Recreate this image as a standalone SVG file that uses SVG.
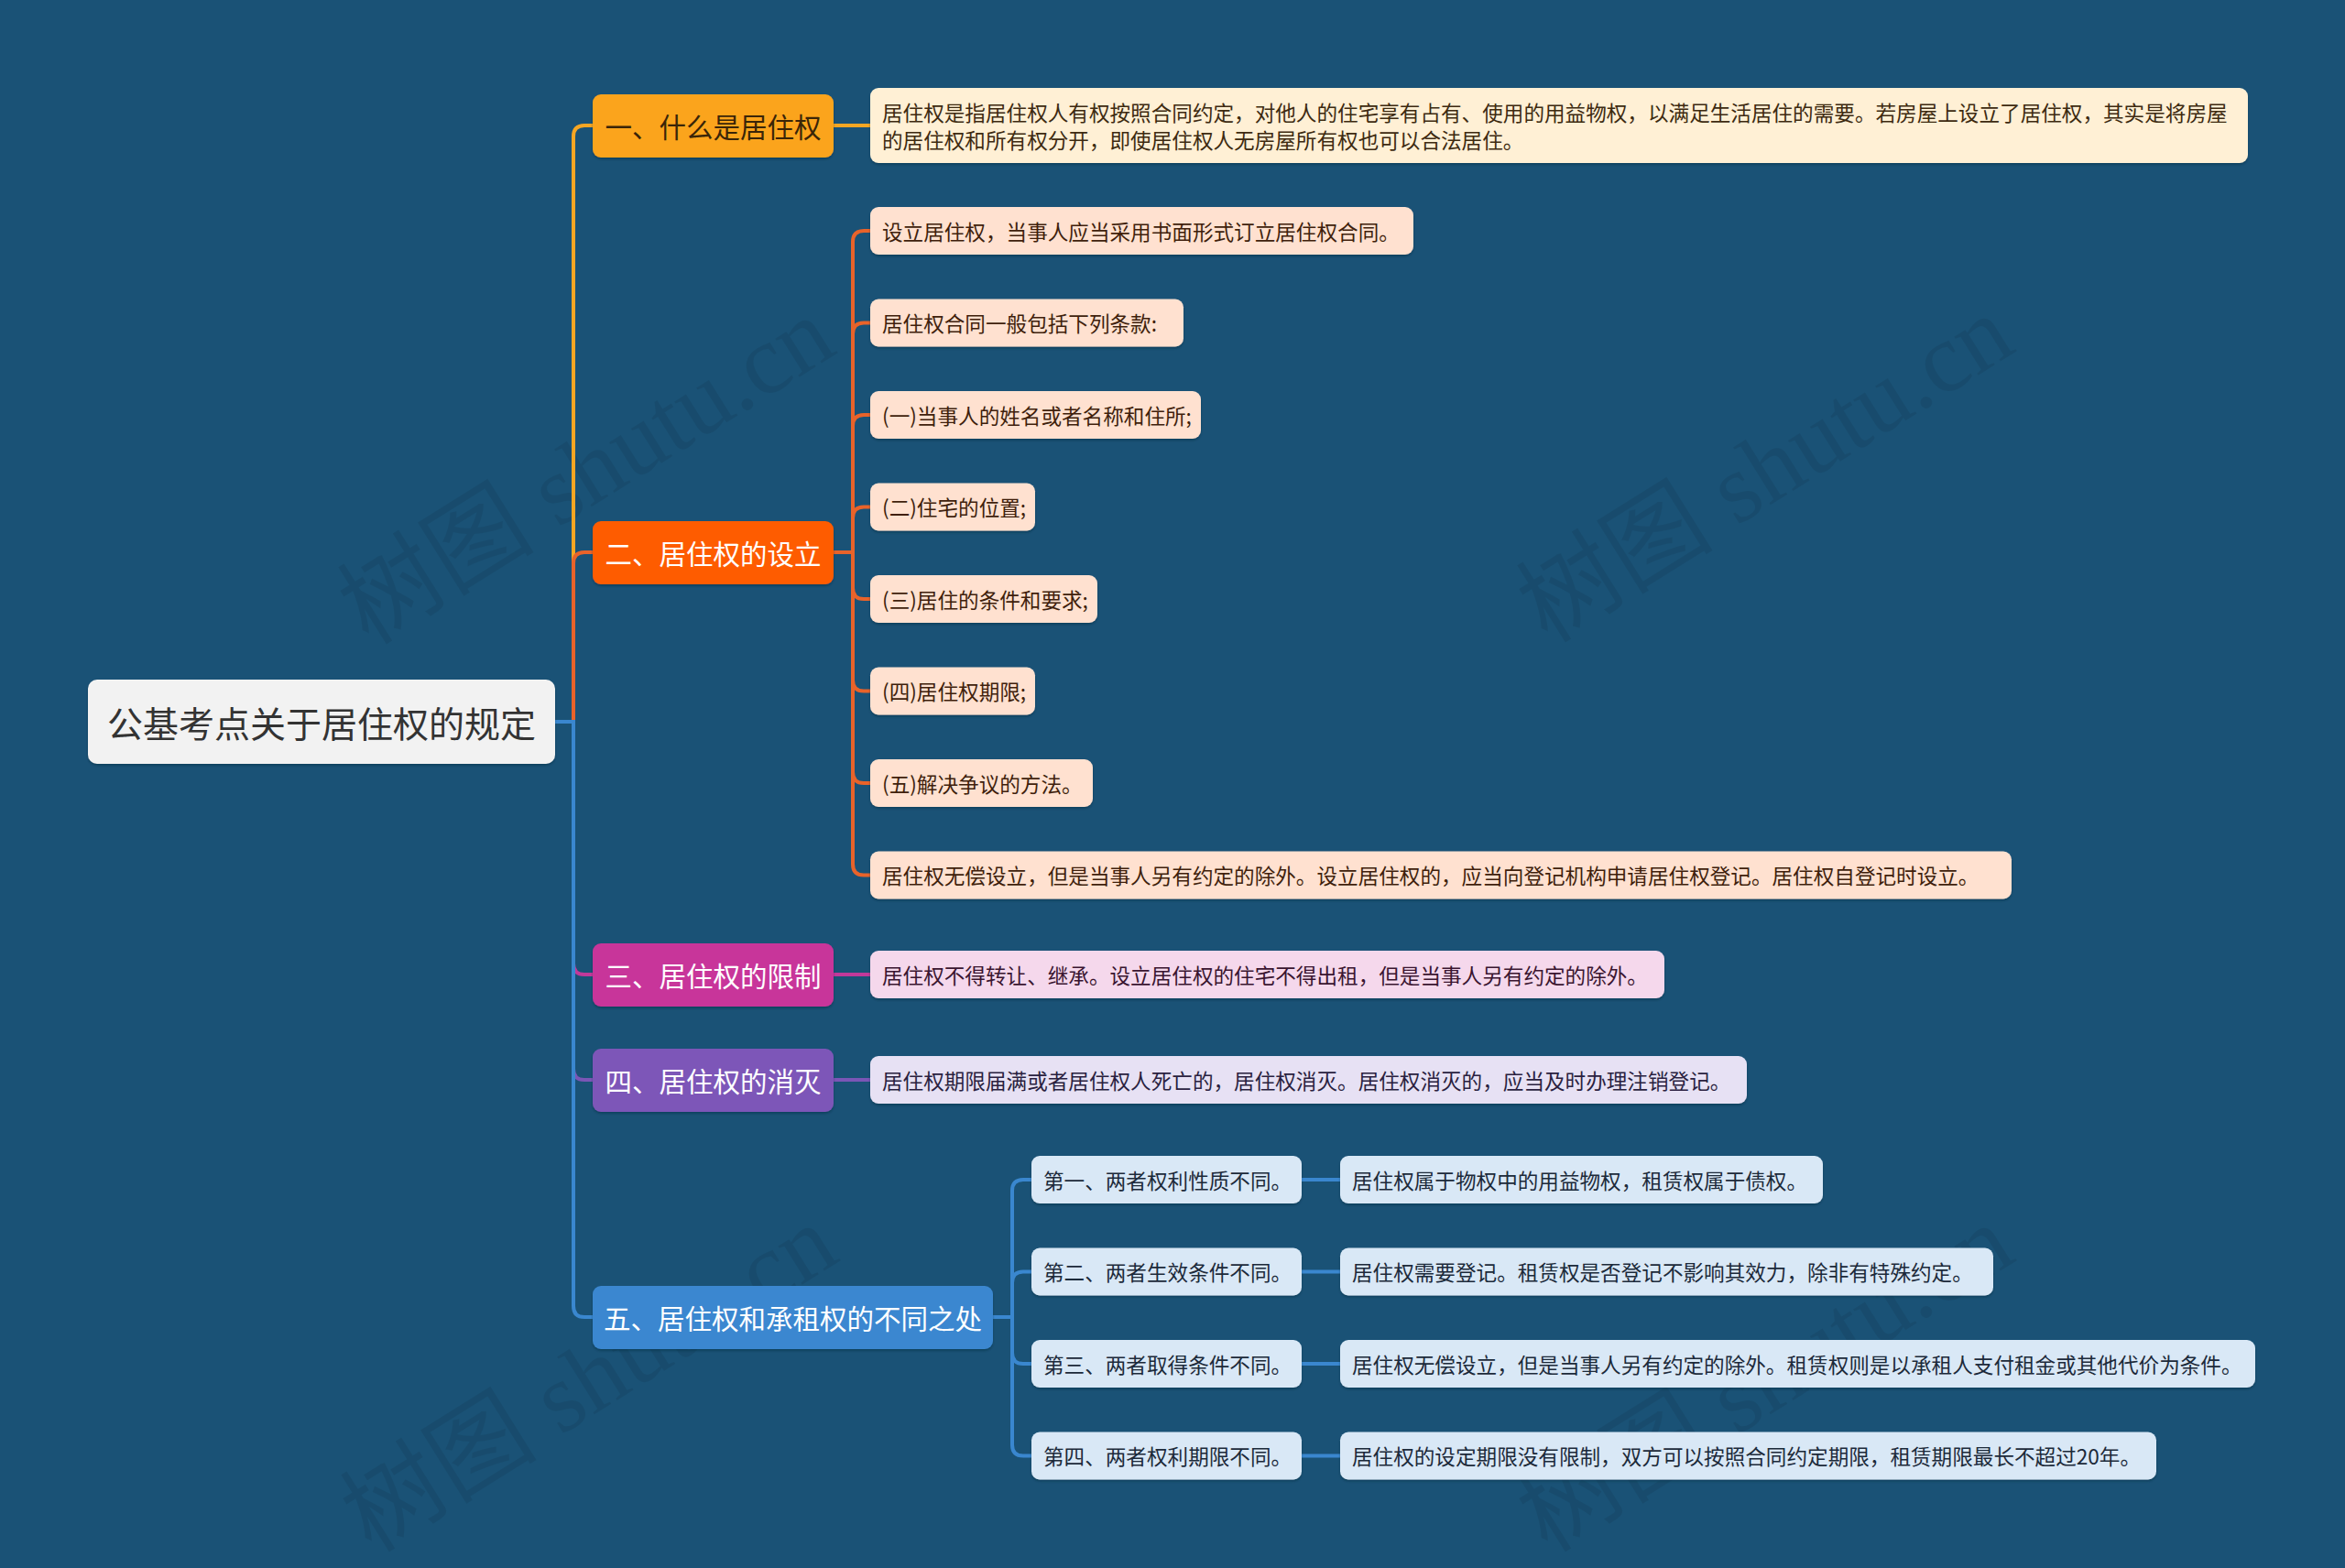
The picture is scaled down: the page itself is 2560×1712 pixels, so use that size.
<svg xmlns="http://www.w3.org/2000/svg" width="2560" height="1712" viewBox="0 0 2560 1712">
<defs>
<style>
.bg{fill:#1a5276}
text{font-family:"Noto Sans CJK SC","Noto Sans",sans-serif;dominant-baseline:central}
.root{fill:#f2f2f2}
.rt{font-size:39px;fill:#333333;text-anchor:middle}
.l1t{font-size:29.5px;fill:#ffffff;text-anchor:middle}
.dt{font-size:22.6px}
.ln{fill:none;stroke-width:4;stroke-linecap:round}
.wm{font-family:"Liberation Serif","Noto Sans CJK SC",serif;font-size:108px;fill:#000000;opacity:0.07;text-anchor:middle}
.c1{stroke:#f5a623}.c2{stroke:#e8632a}.c3{stroke:#c2399a}.c4{stroke:#7b56b6}.c5{stroke:#3a87cf}
</style>
<filter id="sh" x="-5%" y="-20%" width="110%" height="150%">
<feDropShadow dx="0" dy="2" stdDeviation="1" flood-color="#0a2a40" flood-opacity="0.45"/>
</filter>
</defs>
<rect class="bg" x="0" y="0" width="2560" height="1712"/>

<g id="watermarks">
<text class="wm" x="640" y="514" transform="rotate(-32 640 514)">树图 shutu.cn</text>
<text class="wm" x="1927" y="512" transform="rotate(-32 1927 512)">树图 shutu.cn</text>
<text class="wm" x="643" y="1505" transform="rotate(-32 643 1505)">树图 shutu.cn</text>
<text class="wm" x="1927" y="1505" transform="rotate(-32 1927 1505)">树图 shutu.cn</text>
</g>

<g id="connectors">
<path class="ln c1" d="M606 788 H626 V149 Q626 137 638 137 H647"/>
<path class="ln c2" d="M606 788 H626 V615 Q626 603 638 603 H647"/>
<path class="ln c3" d="M606 788 H626 V1052 Q626 1064 638 1064 H647"/>
<path class="ln c4" d="M606 788 H626 V1167 Q626 1179 638 1179 H647"/>
<path class="ln c5" d="M606 788 H626 V1426 Q626 1438 638 1438 H647"/>
<path class="ln c1" d="M910 137 H950"/>
<path class="ln c2" d="M910 603 H931 V264 Q931 252 943 252 H951"/>
<path class="ln c2" d="M910 603 H931 V364.5 Q931 352.5 943 352.5 H951"/>
<path class="ln c2" d="M910 603 H931 V465 Q931 453 943 453 H951"/>
<path class="ln c2" d="M910 603 H931 V565.5 Q931 553.5 943 553.5 H951"/>
<path class="ln c2" d="M910 603 H931 V642 Q931 654 943 654 H951"/>
<path class="ln c2" d="M910 603 H931 V742.5 Q931 754.5 943 754.5 H951"/>
<path class="ln c2" d="M910 603 H931 V843 Q931 855 943 855 H951"/>
<path class="ln c2" d="M910 603 H931 V943.5 Q931 955.5 943 955.5 H951"/>
<path class="ln c3" d="M910 1064 H950"/>
<path class="ln c4" d="M910 1179 H950"/>
<path class="ln c5" d="M1084 1438 H1105 V1300 Q1105 1288 1117 1288 H1126"/>
<path class="ln c5" d="M1084 1438 H1105 V1400.5 Q1105 1388.5 1117 1388.5 H1126"/>
<path class="ln c5" d="M1084 1438 H1105 V1477 Q1105 1489 1117 1489 H1126"/>
<path class="ln c5" d="M1084 1438 H1105 V1577.5 Q1105 1589.5 1117 1589.5 H1126"/>
<path class="ln c5" d="M1421 1288 H1463"/>
<path class="ln c5" d="M1421 1388.5 H1463"/>
<path class="ln c5" d="M1421 1489 H1463"/>
<path class="ln c5" d="M1421 1589.5 H1463"/>
</g>

<g id="root">
<rect class="root" x="96" y="742" width="510" height="92" rx="10" filter="url(#sh)"/>
<text class="rt" x="351" y="788">公基考点关于居住权的规定</text>
</g>

<g id="n1">
<rect x="647" y="103" width="263" height="69" rx="9" fill="#fba41e" filter="url(#sh)"/>
<text class="l1t" x="778.5" y="137" style="fill:#3a2508">一、什么是居住权</text>
</g>
<g id="n1c1">
<rect x="950" y="96" width="1504" height="82" rx="9" fill="#fff0d5" filter="url(#sh)"/>
<text class="dt" x="963" y="122" fill="#3d2a10">居住权是指居住权人有权按照合同约定，对他人的住宅享有占有、使用的用益物权，以满足生活居住的需要。若房屋上设立了居住权，其实是将房屋</text>
<text class="dt" x="963" y="152" fill="#3d2a10">的居住权和所有权分开，即使居住权人无房屋所有权也可以合法居住。</text>
</g>

<g id="n2">
<rect x="647" y="569" width="263" height="69" rx="9" fill="#fe5c00" filter="url(#sh)"/>
<text class="l1t" x="778.5" y="603">二、居住权的设立</text>
</g>
<g id="n2c1"><rect x="950" y="226" width="593" height="52" rx="9" fill="#ffe1d0" filter="url(#sh)"/><text class="dt" x="963" y="252" fill="#3f1f0c">设立居住权，当事人应当采用书面形式订立居住权合同。</text></g>
<g id="n2c2"><rect x="950" y="326.5" width="342" height="52" rx="9" fill="#ffe1d0" filter="url(#sh)"/><text class="dt" x="963" y="352.5" fill="#3f1f0c">居住权合同一般包括下列条款:</text></g>
<g id="n2c3"><rect x="950" y="427" width="361" height="52" rx="9" fill="#ffe1d0" filter="url(#sh)"/><text class="dt" x="963" y="453" fill="#3f1f0c">(一)当事人的姓名或者名称和住所;</text></g>
<g id="n2c4"><rect x="950" y="527.5" width="180" height="52" rx="9" fill="#ffe1d0" filter="url(#sh)"/><text class="dt" x="963" y="553.5" fill="#3f1f0c">(二)住宅的位置;</text></g>
<g id="n2c5"><rect x="950" y="628" width="248" height="52" rx="9" fill="#ffe1d0" filter="url(#sh)"/><text class="dt" x="963" y="654" fill="#3f1f0c">(三)居住的条件和要求;</text></g>
<g id="n2c6"><rect x="950" y="728.5" width="180" height="52" rx="9" fill="#ffe1d0" filter="url(#sh)"/><text class="dt" x="963" y="754.5" fill="#3f1f0c">(四)居住权期限;</text></g>
<g id="n2c7"><rect x="950" y="829" width="243" height="52" rx="9" fill="#ffe1d0" filter="url(#sh)"/><text class="dt" x="963" y="855" fill="#3f1f0c">(五)解决争议的方法。</text></g>
<g id="n2c8"><rect x="950" y="929.5" width="1246" height="52" rx="9" fill="#ffe1d0" filter="url(#sh)"/><text class="dt" x="963" y="955.5" fill="#3f1f0c">居住权无偿设立，但是当事人另有约定的除外。设立居住权的，应当向登记机构申请居住权登记。居住权自登记时设立。</text></g>

<g id="n3">
<rect x="647" y="1030" width="263" height="69" rx="9" fill="#c8359a" filter="url(#sh)"/>
<text class="l1t" x="778.5" y="1064">三、居住权的限制</text>
</g>
<g id="n3c1"><rect x="950" y="1038" width="867" height="52" rx="9" fill="#f5d8ec" filter="url(#sh)"/><text class="dt" x="963" y="1064" fill="#3a1530">居住权不得转让、继承。设立居住权的住宅不得出租，但是当事人另有约定的除外。</text></g>

<g id="n4">
<rect x="647" y="1145" width="263" height="69" rx="9" fill="#7d56b8" filter="url(#sh)"/>
<text class="l1t" x="778.5" y="1179">四、居住权的消灭</text>
</g>
<g id="n4c1"><rect x="950" y="1153" width="957" height="52" rx="9" fill="#e7e1f4" filter="url(#sh)"/><text class="dt" x="963" y="1179" fill="#2a1f40">居住权期限届满或者居住权人死亡的，居住权消灭。居住权消灭的，应当及时办理注销登记。</text></g>

<g id="n5">
<rect x="647" y="1404" width="437" height="69" rx="9" fill="#3a87d0" filter="url(#sh)"/>
<text class="l1t" x="865.5" y="1438">五、居住权和承租权的不同之处</text>
</g>
<g id="n5c1"><rect x="1126" y="1262" width="295" height="52" rx="9" fill="#d9e8f6" filter="url(#sh)"/><text class="dt" x="1139" y="1288" fill="#1c2a3a">第一、两者权利性质不同。</text></g>
<g id="n5c2"><rect x="1126" y="1362.5" width="295" height="52" rx="9" fill="#d9e8f6" filter="url(#sh)"/><text class="dt" x="1139" y="1388.5" fill="#1c2a3a">第二、两者生效条件不同。</text></g>
<g id="n5c3"><rect x="1126" y="1463" width="295" height="52" rx="9" fill="#d9e8f6" filter="url(#sh)"/><text class="dt" x="1139" y="1489" fill="#1c2a3a">第三、两者取得条件不同。</text></g>
<g id="n5c4"><rect x="1126" y="1563.5" width="295" height="52" rx="9" fill="#d9e8f6" filter="url(#sh)"/><text class="dt" x="1139" y="1589.5" fill="#1c2a3a">第四、两者权利期限不同。</text></g>
<g id="n5c1d"><rect x="1463" y="1262" width="527" height="52" rx="9" fill="#d9e8f6" filter="url(#sh)"/><text class="dt" x="1476" y="1288" fill="#1c2a3a">居住权属于物权中的用益物权，租赁权属于债权。</text></g>
<g id="n5c2d"><rect x="1463" y="1362.5" width="713" height="52" rx="9" fill="#d9e8f6" filter="url(#sh)"/><text class="dt" x="1476" y="1388.5" fill="#1c2a3a">居住权需要登记。租赁权是否登记不影响其效力，除非有特殊约定。</text></g>
<g id="n5c3d"><rect x="1463" y="1463" width="999" height="52" rx="9" fill="#d9e8f6" filter="url(#sh)"/><text class="dt" x="1476" y="1489" fill="#1c2a3a">居住权无偿设立，但是当事人另有约定的除外。租赁权则是以承租人支付租金或其他代价为条件。</text></g>
<g id="n5c4d"><rect x="1463" y="1563.5" width="891" height="52" rx="9" fill="#d9e8f6" filter="url(#sh)"/><text class="dt" x="1476" y="1589.5" fill="#1c2a3a">居住权的设定期限没有限制，双方可以按照合同约定期限，租赁期限最长不超过20年。</text></g>
</svg>
